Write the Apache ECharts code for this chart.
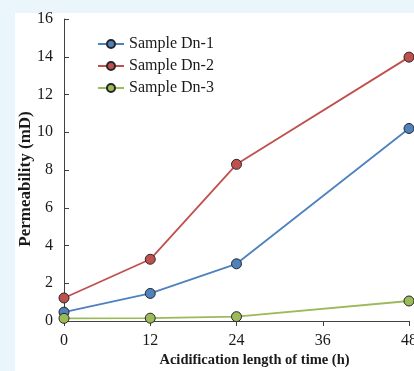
<!DOCTYPE html>
<html>
<head>
<meta charset="utf-8">
<script src="https://cdn.jsdelivr.net/npm/echarts@6/dist/echarts.min.js"></script>
<style>
  html, body { margin: 0; padding: 0; background: #eaf6fc; }
  #panel { position: absolute; left: 15px; top: 13px; width: 399px; height: 358px; background: #ffffff; }
  #main { position: absolute; left: 0; top: 0; width: 414px; height: 371px; }
</style>
</head>
<body>
<div id="panel"></div>
<div id="main"></div>
<script>
// acidification time (h)
const hours = [0, 12, 24, 48];
// permeability (mD)
const dn1 = [0.47, 1.46, 3.03, 10.2];
const dn2 = [1.22, 3.27, 8.3, 13.98];
const dn3 = [0.14, 0.15, 0.23, 1.06];
const seriesNames = ['Sample Dn-1', 'Sample Dn-2', 'Sample Dn-3'];
const colors = ['#4f81bd', '#c0504d', '#9bbb59'];

const myChart = echarts.init(document.getElementById('main'));

const font = 'Liberation Serif';

function makeSeries(name, vals, color) {
  return {
    name: name,
    type: 'line',
    data: hours.map((h, i) => [h, vals[i]]),
    symbol: 'circle',
    symbolSize: 10,
    lineStyle: { color: color, width: 1.8 },
    itemStyle: { color: color, borderColor: '#262626', borderWidth: 1 }
  };
}

const option = {
  animation: false,
  backgroundColor: 'transparent',
  color: colors,
  grid: { left: 64, right: 5, top: 19, bottom: 50, containLabel: false, outerBoundsMode: 'none' },
  legend: {
    orient: 'vertical',
    left: 92,
    top: 31,
    itemWidth: 26,
    itemHeight: 10,
    itemGap: 6,
    textStyle: { fontFamily: font, fontSize: 16, color: '#1a1a1a' },
    data: seriesNames
  },
  xAxis: {
    type: 'value',
    min: 0,
    max: 48,
    interval: 12,
    name: 'Acidification length of time (h)',
    nameLocation: 'middle',
    nameGap: 32,
    nameMoveOverlap: false,
    nameTextStyle: { fontFamily: font, fontSize: 14.5, fontWeight: 'bold', color: '#1a1a1a', padding: [0, 0, 0, 36] },
    axisLine: { lineStyle: { color: '#404040', width: 1 } },
    axisTick: { show: true, inside: false, length: 5, lineStyle: { color: '#404040' } },
    axisLabel: { fontFamily: font, fontSize: 16, color: '#1a1a1a', margin: 12 },
    splitLine: { show: false }
  },
  yAxis: {
    type: 'value',
    min: 0,
    max: 16,
    interval: 2,
    name: 'Permeability (mD)',
    nameLocation: 'middle',
    nameGap: 30,
    nameMoveOverlap: false,
    nameTextStyle: { fontFamily: font, fontSize: 17, fontWeight: 'bold', color: '#1a1a1a', padding: [0, 18, 0, 0] },
    axisLine: { show: true, lineStyle: { color: '#404040', width: 1 } },
    axisTick: { show: true, inside: true, length: 5, lineStyle: { color: '#404040' } },
    axisLabel: { fontFamily: font, fontSize: 16, color: '#1a1a1a', margin: 11 },
    splitLine: { show: false }
  },
  series: [
    makeSeries(seriesNames[0], dn1, colors[0]),
    makeSeries(seriesNames[1], dn2, colors[1]),
    makeSeries(seriesNames[2], dn3, colors[2])
  ]
};

myChart.setOption(option);
</script>
</body>
</html>
